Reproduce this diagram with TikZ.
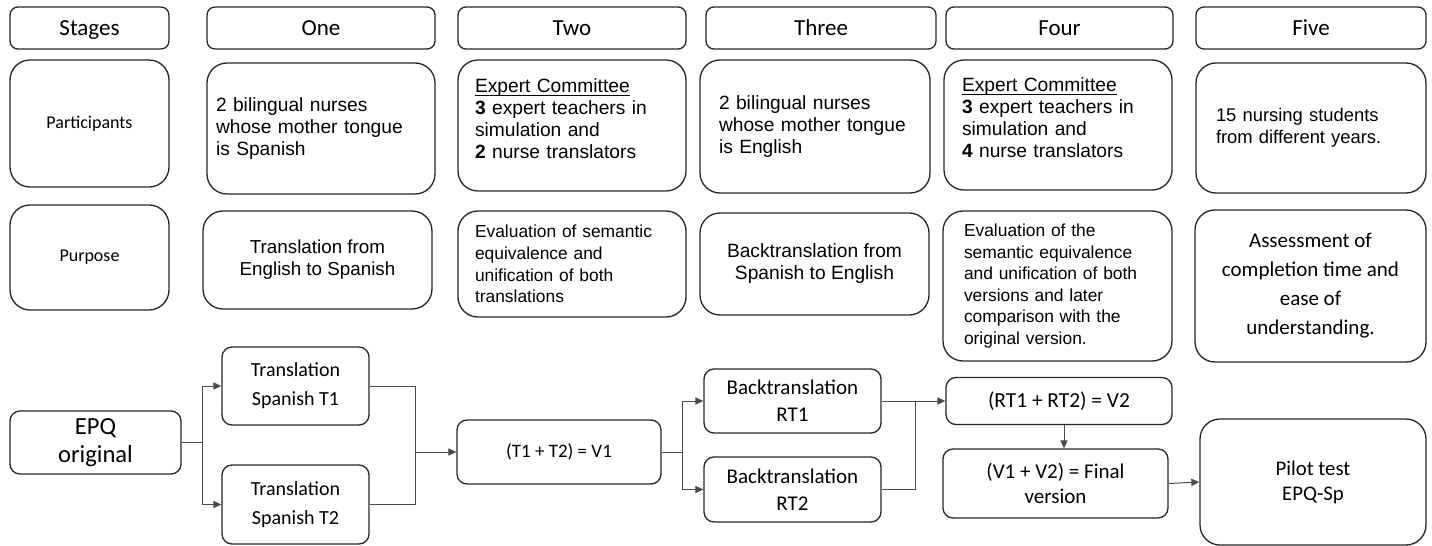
\documentclass[tikz,border=0pt]{standalone}
\usepackage{fontspec}
\setmainfont{Liberation Sans}
\newfontfamily\calibri{Carlito}
\usepackage{tikz}
\usetikzlibrary{arrows.meta,positioning,calc}

\newcommand{\fsz}[2]{\fontsize{#1}{#2}\selectfont}
\newcommand{\committee}{\underline{\smash{Expert Committee}}}

\begin{document}
\begin{tikzpicture}[x=0.5pt,y=-0.5pt,
  box/.style={draw=black!85,line width=0.65pt,inner sep=0pt,align=center},
  hdr/.style={box,rounded corners=4pt,minimum height=21pt,text height=9.9pt,text depth=2.5pt,font=\calibri\fsz{11.5}{13}},
  cell/.style={box,rounded corners=10pt},
  flow/.style={box,rounded corners=5pt},
  body/.style={font=\fsz{9.6}{11}},
  small/.style={font=\fsz{8.7}{10.8}},
  link/.style={draw=black!70,line width=0.5pt},
  arr/.style={link,-{Triangle[length=4pt,width=3.6pt]}}]
  \useasboundingbox (0,0) rectangle (1432,546);
  % stage headers
  \node[hdr,minimum width=79.5pt] (stages) at (89.5,28) {Stages};
  \node[hdr,minimum width=114pt] (one) at (321,28) {One};
  \node[hdr,minimum width=114pt] (two) at (572,28) {Two};
  \node[hdr,minimum width=115pt] (three) at (821,28) {Three};
  \node[hdr,minimum width=113.5pt] (four) at (1059.5,28) {Four};
  \node[hdr,minimum width=115pt] (five) at (1311,28) {Five};
  % participants
  \node[cell,minimum width=79.5pt,minimum height=63.5pt,font=\calibri\fsz{9}{11}] (part) at (89.5,123.5) {Participants};
  \node[cell,body,align=left,text width=105pt,minimum width=114pt,minimum height=65.5pt] (partone) at (321,128.5) {2 bilingual nurses\\whose mother tongue\\is Spanish};
  \node[cell,body,align=left,text width=97pt,minimum width=114pt,minimum height=65.5pt] (parttwo) at (572,125.5) {\committee\\\textbf{3} expert teachers in\\simulation and\\\textbf{2} nurse translators};
  \node[cell,body,align=left,text width=96pt,minimum width=115pt,minimum height=66.5pt] (partthree) at (815,126.5) {2 bilingual nurses\\whose mother tongue\\is English};
  \node[cell,body,align=left,text width=96pt,minimum width=114pt,minimum height=65pt] (partfour) at (1058,125) {\committee\\\textbf{3} expert teachers in\\simulation and\\\textbf{4} nurse translators};
  \node[cell,align=left,text width=95pt,minimum width=115pt,minimum height=65pt,font=\fsz{9.2}{10.8}] (partfive) at (1311,128) {15 nursing students\\from different years.};
  % purpose
  \node[cell,minimum width=79.5pt,minimum height=52.5pt,font=\calibri\fsz{9}{11}] (purp) at (89.5,257.5) {Purpose};
  \node[cell,minimum width=114.5pt,minimum height=49pt,font=\fsz{9.4}{11}] (purpone) at (317.5,260) {Translation from\\English to Spanish};
  \node[cell,small,align=left,text width=97pt,minimum width=114pt,minimum height=53pt] (purptwo) at (572,264) {Evaluation of semantic\\equivalence and\\unification of both\\translations};
  \node[cell,minimum width=114.5pt,minimum height=51pt,font=\fsz{9.6}{11}] (purpthree) at (814.5,264) {Backtranslation from\\Spanish to English};
  \node[cell,small,align=left,text width=93.5pt,minimum width=114.5pt,minimum height=75pt] (purpfour) at (1057.5,286) {Evaluation of the\\semantic equivalence\\and unification of both\\versions and later\\comparison with the\\original version.};
  \node[cell,minimum width=115.5pt,minimum height=76pt,font=\calibri\fsz{10.5}{14.5}] (purpfive) at (1310.5,286) {Assessment of\\completion time and\\ease of\\understanding.};
  % flow
  \node[flow,minimum width=85.5pt,minimum height=31.5pt,font=\calibri\fsz{12.3}{14}] (epq) at (95.5,442.5) {EPQ\\original};
  \node[flow,minimum width=73.5pt,minimum height=39pt,font=\calibri\fsz{10}{14.5}] (tone) at (295.5,386) {Translation\\Spanish T1};
  \node[flow,minimum width=73.5pt,minimum height=39.5pt,font=\calibri\fsz{10}{14.5}] (ttwo) at (295.5,504.5) {Translation\\Spanish T2};
  \node[flow,minimum width=102pt,minimum height=32pt,font=\calibri\fsz{9.5}{11}] (vone) at (559,452) {(T1 + T2) = V1};
  \node[flow,minimum width=88.5pt,minimum height=32pt,font=\calibri\fsz{10.5}{13.5}] (rtone) at (792.5,401) {Backtranslation\\RT1};
  \node[flow,minimum width=88.5pt,minimum height=32.5pt,font=\calibri\fsz{10.5}{13.5}] (rttwo) at (792.5,489.5) {Backtranslation\\RT2};
  \node[flow,minimum width=113pt,minimum height=23.5pt,font=\calibri\fsz{10.7}{12}] (vtwo) at (1059,401) {(RT1 + RT2) = V2};
  \node[flow,minimum width=112.5pt,minimum height=34.5pt,font=\calibri\fsz{10.5}{12.5}] (final) at (1055.5,483.5) {(V1 + V2) = Final\\version};
  \node[flow,rounded corners=10pt,minimum width=113pt,minimum height=63pt,font=\calibri\fsz{10.4}{12.5}] (pilot) at (1313,482) {Pilot test\\EPQ-Sp};
  % connectors
  \coordinate (sa) at ([xshift=10.5pt]epq.east);
  \draw[arr] (epq.east) -- (sa) |- (tone.west);
  \draw[arr] (sa) |- (ttwo.west);
  \coordinate (ma) at ([xshift=23pt]tone.east);
  \draw[link] (tone.east) -- (ma) |- (ttwo.east);
  \draw[arr] (ma |- vone.west) -- (vone.west);
  \coordinate (sb) at ([xshift=10.5pt]vone.east);
  \draw[arr] (vone.east) -- (sb) |- (rtone.west);
  \draw[arr] (sb) |- (rttwo.west);
  \draw[arr] (rtone.east) -- (vtwo.west);
  \coordinate (mb) at ([xshift=17pt]rttwo.east);
  \draw[link] (rttwo.east) -- (mb) |- (rtone.east);
  \draw[arr] ([xshift=2.5pt]vtwo.south) -- ([xshift=2.5pt]vtwo.south |- final.north);
  \draw[arr] (final.east) -- (pilot.west);
\end{tikzpicture}
\end{document}
